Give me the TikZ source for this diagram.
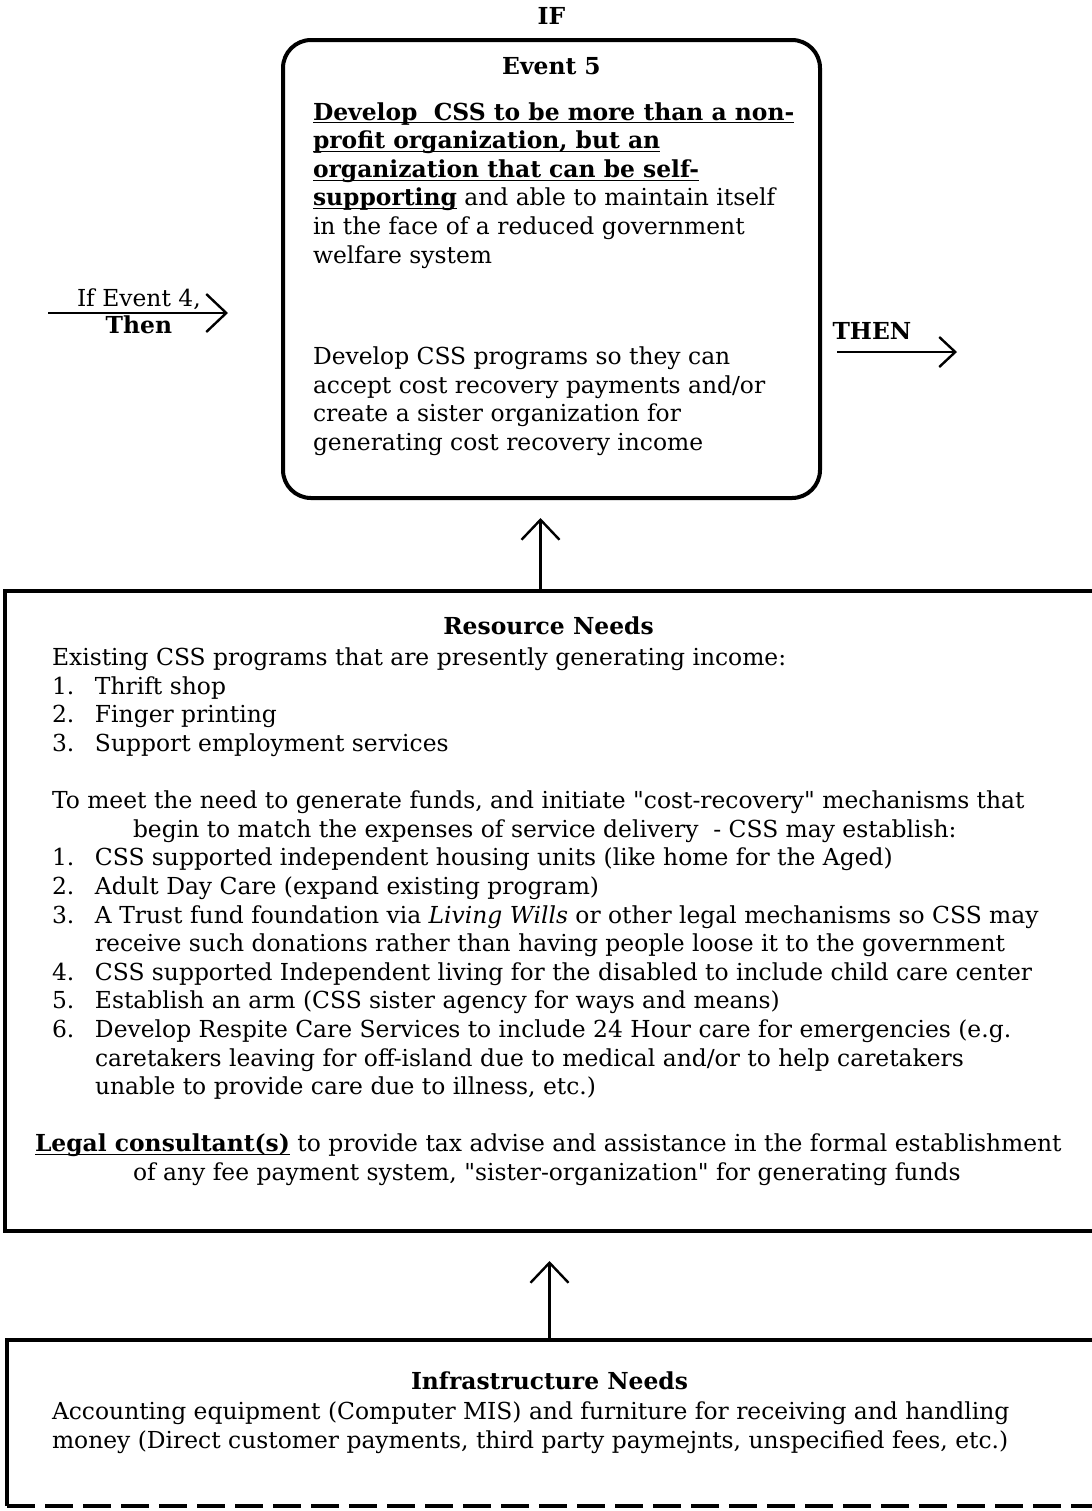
\documentclass[tikz,border=0pt]{standalone}
\usepackage{fontspec}
\setmainfont{DejaVu Serif}[Ligatures=TeXOff]
\usepackage{tikz}
\usetikzlibrary{arrows.meta, positioning, calc}
\newcommand{\bodysize}{\fontsize{11.7}{14.3}\selectfont}
\newcommand{\numitem}[1]{\makebox[21.5pt][l]{#1}}
\newcommand{\numcont}{\hspace*{21.5pt}}
\newcommand{\undl}[1]{\underline{\smash{#1}}}
\tikzset{
    base/.style={font=\bodysize, inner sep=0pt, outer sep=0pt},
    headtxt/.style={base, font=\bodysize\bfseries, inner sep=3pt},
    bodytxt/.style={base, align=left, anchor=north west},
    lbl/.style={base, inner sep=1.5pt},
    eventbox/.style={draw=black, line width=2pt, rectangle, rounded corners=14pt},
    areabox/.style={draw=none, rectangle, inner sep=0pt, outer sep=0pt},
    boxline/.style={draw=black, line width=2pt},
    line/.style={draw=black, line width=1.2pt, -{Straight Barb[length=10pt, width=19pt]}}
}
\begin{document}
\begin{tikzpicture}[x=0.5pt, y=-0.5pt]
    \path[use as bounding box, fill=white] (0,0) rectangle (1092,1511);

    \node [eventbox, minimum width=268.5pt, minimum height=229pt] (EventBox) at (551.5,269) {};
    \node [headtxt, above=4pt of EventBox.north] (IfLabel) {IF};
    \node [headtxt, below=6.5pt of EventBox.north] (EventTitle) {Event 5};
    \node [bodytxt] (EventText) at (313,120) {%
        \undl{\textbf{Develop\ \ CSS to be more than a non-}}\\
        \undl{\textbf{profit organization, but an}}\\
        \undl{\textbf{organization that can be self-}}\\
        \undl{\textbf{supporting}} and able to maintain itself\\
        in the face of a reduced government\\
        welfare system};
    \node [bodytxt] (EventMore) at (313,347) {%
        Develop CSS programs so they can\\
        accept cost recovery payments and/or\\
        create a sister organization for\\
        generating cost recovery income};

    \coordinate (In4) at (48,313);
    \draw [line, shorten >=26.5pt] (In4) -- node [lbl, pos=.39, above] (IfFour) {If Event 4,}
        node [lbl, pos=.39, below, font=\bodysize\bfseries] (ThenFour) {Then} (In4 -| EventBox.west);
    \coordinate (Out5) at (957,352);
    \draw [line, -{Straight Barb[length=8pt, width=15pt]}, shorten <=7.5pt] (EventBox.east |- Out5) --
        node [lbl, pos=.37, above=5pt, font=\bodysize\bfseries] (ThenFive) {THEN} (Out5);

    \node [areabox, minimum width=543.5pt, minimum height=320pt] (ResBox) at (548.5,911) {};
    \draw [boxline] (ResBox.north east) -- (ResBox.north west) -- (ResBox.south west) -- (ResBox.south east);
    \node [headtxt, below=10pt of ResBox.north] (ResTitle) {Resource Needs};
    \node [bodytxt] (ResText) at (52,648) {%
        Existing CSS programs that are presently generating income:\\
        \numitem{1.}Thrift shop\\
        \numitem{2.}Finger printing\\
        \numitem{3.}Support employment services\\[14.3pt]
        To meet the need to generate funds, and initiate "cost-recovery" mechanisms that\\
        \hspace*{40.5pt}begin to match the expenses of service delivery\ \ - CSS may establish:\\
        \numitem{1.}CSS supported independent housing units (like home for the Aged)\\
        \numitem{2.}Adult Day Care (expand existing program)\\
        \numitem{3.}A Trust fund foundation via \textit{Living Wills} or other legal mechanisms so CSS may\\
        \numcont receive such donations rather than having people loose it to the government\\
        \numitem{4.}CSS supported Independent living for the disabled to include child care center\\
        \numitem{5.}Establish an arm (CSS sister agency for ways and means)\\
        \numitem{6.}Develop Respite Care Services to include 24 Hour care for emergencies (e.g.\\
        \numcont caretakers leaving for off-island due to medical and/or to help caretakers\\
        \numcont unable to provide care due to illness, etc.)\\[14.3pt]
        \hspace*{-8.5pt}\undl{\textbf{Legal consultant(s)}} to provide tax advise and assistance in the formal establishment\\
        \hspace*{40.5pt}of any fee payment system, "sister-organization" for generating funds};

    \node [areabox, minimum width=542.5pt, minimum height=83pt] (InfraBox) at (549.5,1423) {};
    \draw [boxline] (InfraBox.north east) -- (InfraBox.north west) -- (InfraBox.south west);
    \draw [boxline, dash pattern=on 14pt off 5pt] (InfraBox.south west) -- (InfraBox.south east);
    \node [headtxt, below=13pt of InfraBox.north] (InfraTitle) {Infrastructure Needs};
    \node [bodytxt] (InfraText) at (52,1402) {%
        Accounting equipment (Computer MIS) and furniture for receiving and handling\\
        money (Direct customer payments, third party paymejnts, unspecified fees, etc.)};

    \draw [line, shorten >=9pt] ($(ResBox.north)+(-8,0)$) -- ($(ResBox.north |- EventBox.south)+(-8,0)$);
    \draw [line, shorten >=15pt] (InfraBox.north) -- (InfraBox.north |- ResBox.south);
\end{tikzpicture}
\end{document}
